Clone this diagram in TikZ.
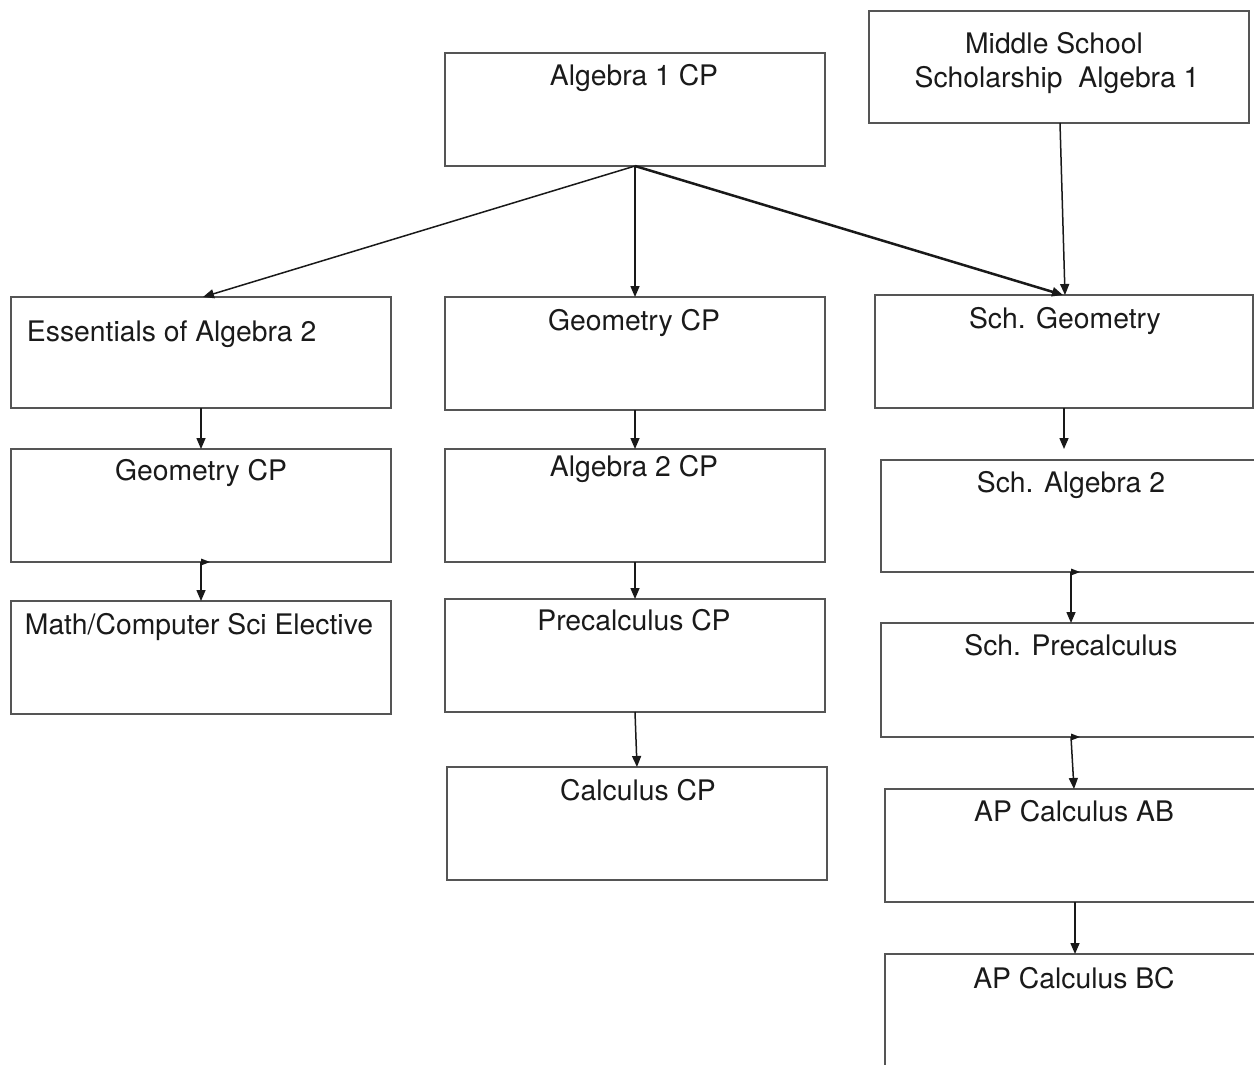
\documentclass[tikz,border=0pt]{standalone}
\usepackage{fontspec}
\setmainfont{TeX Gyre Heros}
\usetikzlibrary{arrows.meta}
\definecolor{boxline}{HTML}{555555}
\definecolor{txtc}{HTML}{1a1a1a}
\tikzset{
  box/.style={draw=boxline, line width=2pt, rectangle, inner sep=0pt, outer sep=0pt, minimum width=380pt, minimum height=113pt},
  lbl/.style={inner sep=0pt, outer sep=0pt, anchor=base, text=txtc, font=\fontsize{28.3}{34}\selectfont},
  arr/.style={draw=black!90, line width=1.5pt, -{Triangle[width=9pt,length=11pt]}},
  flag/.style={fill=black!90}
}
\begin{document}
\begin{tikzpicture}[x=1pt,y=-1pt]
\clip (0,0) rectangle (1254,1065);
\fill[white] (0,0) rectangle (1254,1065);

% boxes
\node[box] (alg1) at (635,109.5) {};
\node[box, minimum height=112pt] (ms) at (1059,67) {};
\node[box, minimum height=111pt] (ess) at (201,352.5) {};
\node[box] (geom) at (635,353.5) {};
\node[box, minimum width=378pt] (schgeo) at (1064,351.5) {};
\node[box] (geol) at (201,505.5) {};
\node[box] (alg2) at (635,505.5) {};
\node[box, minimum height=112pt] (schalg2) at (1071,516) {};
\node[box] (math) at (201,657.5) {};
\node[box] (pre) at (635,655.5) {};
\node[box, minimum height=114pt] (schpre) at (1071,680) {};
\node[box] (calc) at (637,823.5) {};
\node[box] (ab) at (1075,845.5) {};
\node[box] (bc) at (1075,1010.5) {};

% texts
\node[lbl] (t-alg1) at (634,86) {Algebra 1 CP};
\node[lbl] (t-ms1) at (1054,54) {Middle School};
\node[lbl] (t-ms2) at (1057,88) {Scholarship\ \ Algebra 1};
\node[lbl, anchor=base west] (t-ess) at (27,341) {Essentials of Algebra 2};
\node[lbl] (t-geom) at (634,330) {Geometry CP};
\node[lbl] (t-schgeo) at (1065,328) {Sch. Geometry};
\node[lbl] (t-geol) at (201,480) {Geometry CP};
\node[lbl] (t-alg2) at (634,476) {Algebra 2 CP};
\node[lbl] (t-schalg2) at (1071,492) {Sch. Algebra 2};
\node[lbl] (t-math) at (199,634) {Math/Computer Sci Elective};
\node[lbl] (t-pre) at (634,630) {Precalculus CP};
\node[lbl] (t-schpre) at (1071,655) {Sch. Precalculus};
\node[lbl] (t-calc) at (638,800) {Calculus CP};
\node[lbl] (t-ab) at (1074,821) {AP Calculus AB};
\node[lbl] (t-bc) at (1074,988) {AP Calculus BC};

% connectors
\coordinate (schalg2in) at (1064,449);
\draw[arr] (alg1.south) -- ([xshift=2pt]ess.north);
\draw[arr] (alg1.south) -- (geom.north);
\draw[arr, line width=2.5pt] (alg1.south) -- ([xshift=-1pt]schgeo.north);
\draw[arr] ([xshift=1pt]ms.south) -- ([xshift=1pt]schgeo.north);
\draw[arr] (ess.south) -- (geol.north);
\draw[arr] (geol.south) -- (math.north);
\draw[arr] (geom.south) -- (alg2.north);
\draw[arr] (alg2.south) -- (pre.north);
\draw[arr] (pre.south) -- (calc.north);
\draw[arr] (schgeo.south) -- (schalg2in);
\draw[arr] (schalg2.south) -- (schpre.north);
\draw[arr] (schpre.south) -- ([xshift=-1pt]ab.north);
\draw[arr] (ab.south) -- (bc.north);

% small flags at connector starts
\fill[flag] (geol.south) ++(0,-3.5) -- ++(9,3.5) -- ++(-9,3.5) -- cycle;
\fill[flag] (schalg2.south) ++(0,-3.5) -- ++(9,3.5) -- ++(-9,3.5) -- cycle;
\fill[flag] (schpre.south) ++(0,-3.5) -- ++(9,3.5) -- ++(-9,3.5) -- cycle;
\end{tikzpicture}
\end{document}
